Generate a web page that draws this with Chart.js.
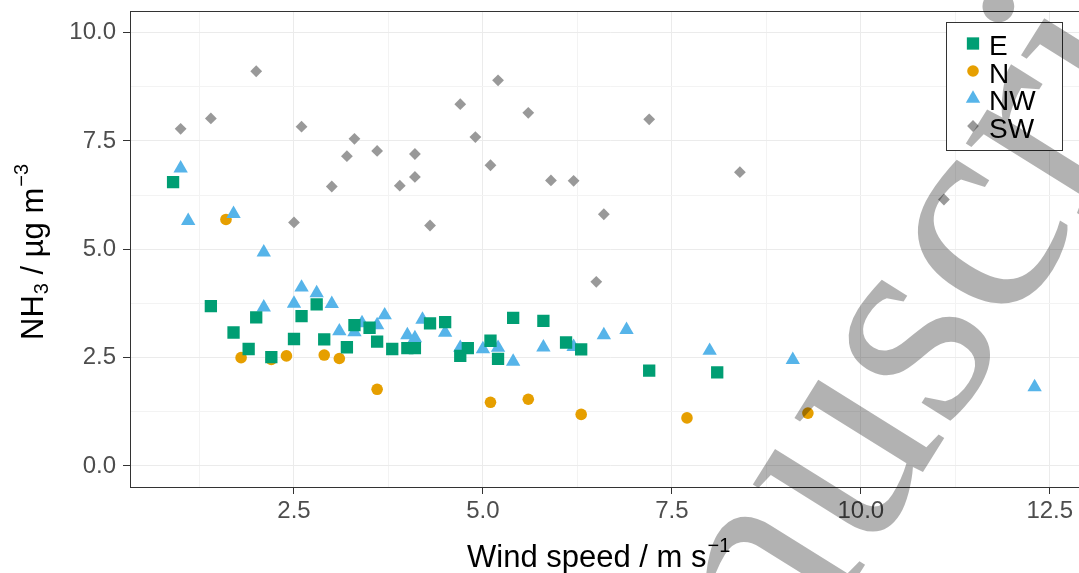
<!DOCTYPE html>
<html>
<head>
<meta charset="utf-8">
<script src="https://cdn.jsdelivr.net/npm/chart.js"></script>
<style>
  html, body { margin: 0; padding: 0; background: #fff; overflow: hidden; }
  #wrap { width: 1100px; height: 573px; }
</style>
</head>
<body>
<div id="wrap"><canvas id="canvas1" width="1100" height="573"></canvas></div>
<script>
// wind speed (m/s) and NH3 (ug m-3) per wind sector
const eWind = [0.9, 1.4, 1.7, 1.9, 2.0, 2.2, 2.5, 2.6, 2.8, 2.9, 3.2, 3.3, 3.5, 3.6, 3.8, 4.0, 4.1, 4.3, 4.5, 4.7, 4.8, 5.1, 5.2, 5.4, 5.8, 6.1, 6.3, 7.2, 8.1];
const eNH3 = [6.55, 3.69, 3.08, 2.70, 3.43, 2.51, 2.93, 3.46, 3.73, 2.92, 2.74, 3.25, 3.19, 2.87, 2.70, 2.72, 2.72, 3.29, 3.32, 2.54, 2.72, 2.89, 2.47, 3.42, 3.35, 2.85, 2.69, 2.20, 2.16];

const nWind = [1.6, 1.8, 2.2, 2.4, 2.9, 3.1, 3.6, 5.1, 5.6, 6.3, 7.7, 9.3];
const nNH3 = [5.69, 2.50, 2.46, 2.54, 2.56, 2.48, 1.77, 1.47, 1.54, 1.19, 1.11, 1.22];

const nwWind = [1.0, 1.1, 1.7, 2.1, 2.1, 2.5, 2.6, 2.8, 3.0, 3.1, 3.3, 3.4, 3.6, 3.7, 4.0, 4.1, 4.2, 4.5, 4.7, 5.0, 5.2, 5.4, 5.8, 6.2, 6.6, 6.9, 8.0, 9.1, 12.3];
const nwNH3 = [6.87, 5.66, 5.82, 4.93, 3.66, 3.75, 4.12, 3.99, 3.74, 3.11, 3.09, 3.30, 3.25, 3.48, 3.02, 2.95, 3.38, 3.08, 2.73, 2.70, 2.73, 2.41, 2.74, 2.75, 3.02, 3.14, 2.66, 2.45, 1.82];

const swWind = [1.0, 1.4, 2.0, 2.5, 2.6, 3.0, 3.2, 3.3, 3.6, 3.9, 4.1, 4.1, 4.3, 4.7, 4.9, 5.1, 5.2, 5.6, 5.9, 6.2, 6.5, 6.6, 7.2, 8.4, 11.1];
const swNH3 = [7.78, 8.02, 9.11, 5.62, 7.83, 6.45, 7.15, 7.55, 7.27, 6.47, 7.20, 6.67, 5.55, 8.35, 7.59, 6.94, 8.90, 8.15, 6.59, 6.58, 4.25, 5.81, 8.00, 6.78, 6.15];

const sectors = ['E', 'N', 'NW', 'SW'];
const xTitle = [['Wind speed / m s', 'base'], ['\u22121', 'sup']];
const yTitle = [['NH', 'base'], ['3', 'sub'], [' / \u00b5g m', 'base'], ['\u22123', 'sup']];
const watermark = 'Accepted Manuscript';

function pts(xs, ys) {
    return xs.map((v, i) => ({ x: v, y: ys[i] }));
}

const isMajor = v => Math.abs(v / 2.5 - Math.round(v / 2.5)) < 1e-6;

// same geometry as Chart.js point styles, for the legend keys
function drawKey(ctx, style, r, x, y) {
    ctx.beginPath();
    if (style === 'rect') {
        const s = Math.SQRT1_2 * r;
        ctx.rect(x - s, y - s, 2 * s, 2 * s);
    } else if (style === 'circle') {
        ctx.arc(x, y, r, 0, Math.PI * 2);
    } else if (style === 'triangle') {
        ctx.moveTo(x, y - r);
        ctx.lineTo(x + 0.866 * r, y + 0.5 * r);
        ctx.lineTo(x - 0.866 * r, y + 0.5 * r);
        ctx.closePath();
    } else {
        ctx.moveTo(x - r, y);
        ctx.lineTo(x, y - r);
        ctx.lineTo(x + r, y);
        ctx.lineTo(x, y + r);
        ctx.closePath();
    }
    ctx.fill();
}

function drawParts(ctx, parts, x, y) {
    parts.forEach(p => {
        const txt = p[0], kind = p[1];
        if (kind === 'base') {
            ctx.font = '31px "Liberation Sans", Arial, sans-serif';
            ctx.fillText(txt, x, y);
        } else {
            ctx.font = '20px "Liberation Sans", Arial, sans-serif';
            ctx.fillText(txt, x + 1, kind === 'sup' ? y - 15 : y + 5);
            x += 1;
        }
        x += ctx.measureText(txt).width;
    });
}

const panelBorder = {
    id: 'panelBorder',
    afterDatasetsDraw(chart) {
        const a = chart.chartArea, ctx = chart.ctx;
        ctx.save();
        ctx.strokeStyle = '#333333';
        ctx.lineWidth = 1;
        ctx.strokeRect(Math.round(a.left) + 0.5, Math.round(a.top) + 0.5,
            Math.round(a.right - a.left), Math.round(a.bottom - a.top));
        ctx.restore();
    }
};

const boxLegend = {
    id: 'boxLegend',
    afterDatasetsDraw(chart) {
        const ctx = chart.ctx;
        ctx.save();
        ctx.fillStyle = '#ffffff';
        ctx.fillRect(946, 22, 117, 129);
        ctx.strokeStyle = '#333333';
        ctx.lineWidth = 1;
        ctx.strokeRect(946.5, 22.5, 116, 128);
        ctx.textBaseline = 'alphabetic';
        ctx.textAlign = 'left';
        chart.data.datasets.forEach((ds, i) => {
            const yb = 55 + i * 27.5;
            ctx.fillStyle = ds.backgroundColor;
            drawKey(ctx, ds.pointStyle, ds.pointRadius, 973, yb - 11.5);
            ctx.fillStyle = '#000000';
            ctx.font = '28px "Liberation Sans", Arial, sans-serif';
            ctx.fillText(ds.label, 989, yb);
        });
        ctx.restore();
    }
};

const axisTitles = {
    id: 'axisTitles',
    afterDraw(chart) {
        const ctx = chart.ctx;
        ctx.save();
        ctx.fillStyle = '#000000';
        ctx.textBaseline = 'alphabetic';
        ctx.textAlign = 'left';
        drawParts(ctx, xTitle, 467, 567);
        ctx.translate(43, 340);
        ctx.rotate(-Math.PI / 2);
        drawParts(ctx, yTitle, 0, 0);
        ctx.restore();
    }
};

const stamp = {
    id: 'stamp',
    afterDraw(chart) {
        const ctx = chart.ctx;
        ctx.save();
        ctx.font = '300px "Liberation Serif", "Times New Roman", serif';
        ctx.fillStyle = 'rgba(0,0,0,0.3)';
        ctx.textBaseline = 'alphabetic';
        ctx.textAlign = 'left';
        ctx.translate(788, 688);
        ctx.rotate(-58 * Math.PI / 180);
        const lead = ctx.measureText('Accepted Ma').width;
        ctx.fillText(watermark, -lead, 0);
        ctx.restore();
    }
};

const tickFont = { family: '"Liberation Sans", Arial, sans-serif', size: 24 };

const config = {
    type: 'scatter',
    data: {
        datasets: [{
            label: sectors[0],
            data: pts(eWind, eNH3),
            backgroundColor: '#009E73',
            pointStyle: 'rect',
            pointRadius: 8.7,
            order: 0
        }, {
            label: sectors[1],
            data: pts(nWind, nNH3),
            backgroundColor: '#E69F00',
            pointStyle: 'circle',
            pointRadius: 5.8,
            order: 2
        }, {
            label: sectors[2],
            data: pts(nwWind, nwNH3),
            backgroundColor: '#56B4E9',
            pointStyle: 'triangle',
            pointRadius: 8.3,
            order: 1
        }, {
            label: sectors[3],
            data: pts(swWind, swNH3),
            backgroundColor: '#999999',
            pointStyle: 'rectRot',
            pointRadius: 5.9,
            order: 3
        }]
    },
    options: {
        responsive: false,
        animation: false,
        events: [],
        elements: { point: { borderWidth: 0, hoverRadius: 0 } },
        layout: { padding: { top: 11, right: 5, left: 0, bottom: 0 } },
        plugins: {
            legend: { display: false },
            tooltip: { enabled: false }
        },
        scales: {
            x: {
                type: 'linear',
                min: 0.33,
                max: 13.05,
                afterFit(scale) {
                    scale.height = 86;
                    scale.paddingLeft = 0;
                    scale.paddingRight = 0;
                },
                border: { display: false },
                grid: {
                    color: c => isMajor(c.tick.value) ? '#ebebeb' : '#f3f3f3',
                    lineWidth: 1,
                    tickLength: 7,
                    tickColor: c => isMajor(c.tick.value) ? '#333333' : 'rgba(0,0,0,0)'
                },
                ticks: {
                    stepSize: 1.25,
                    includeBounds: false,
                    autoSkip: false,
                    maxRotation: 0,
                    padding: 3,
                    color: '#4d4d4d',
                    font: tickFont,
                    callback: v => isMajor(v) ? v.toFixed(1) : ''
                }
            },
            y: {
                type: 'linear',
                min: -0.485,
                max: 10.5,
                afterFit(scale) {
                    scale.width = 130;
                    scale.paddingTop = 0;
                    scale.paddingBottom = 0;
                },
                border: { display: false },
                grid: {
                    color: c => isMajor(c.tick.value) ? '#ebebeb' : '#f3f3f3',
                    lineWidth: 1,
                    tickLength: 7,
                    tickColor: c => isMajor(c.tick.value) ? '#333333' : 'rgba(0,0,0,0)'
                },
                ticks: {
                    stepSize: 1.25,
                    includeBounds: false,
                    autoSkip: false,
                    padding: 7,
                    color: '#4d4d4d',
                    font: tickFont,
                    callback: v => isMajor(v) ? v.toFixed(1) : ''
                }
            }
        }
    },
    plugins: [panelBorder, boxLegend, axisTitles, stamp]
};

const chart = new Chart(document.getElementById('canvas1'), config);
</script>
</body>
</html>
